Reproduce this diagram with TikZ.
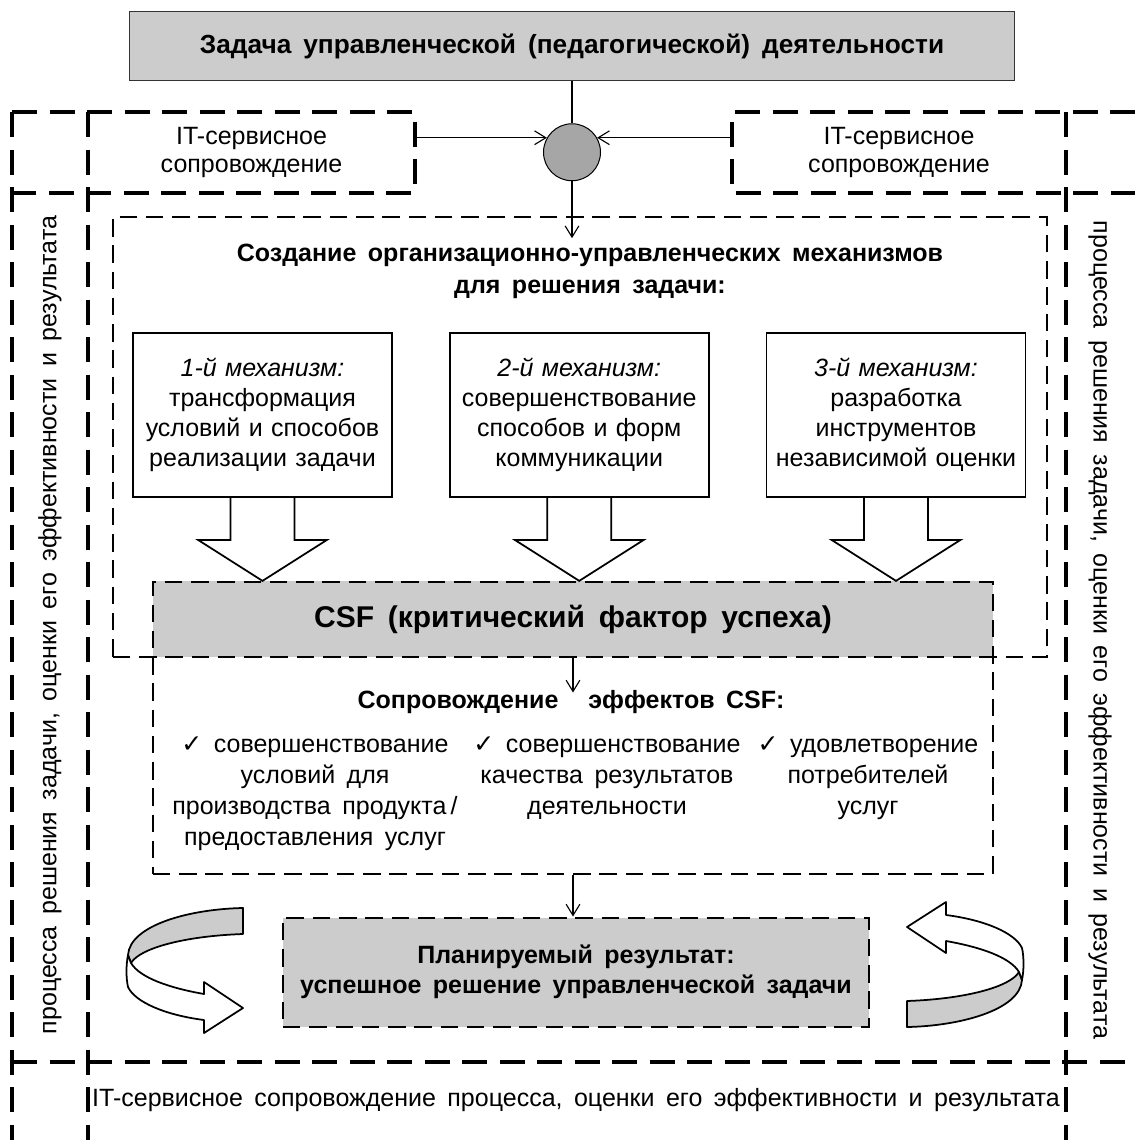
\documentclass[tikz,border=0pt]{standalone}
\usepackage{fontspec}
\setmainfont{Liberation Sans}[WordSpace=1.65]
\newfontfamily\symfont{DejaVu Sans}
\newcommand{\checkmk}{{\symfont ✓}}
\usetikzlibrary{calc,positioning,arrows.meta}

\begin{document}
\begin{tikzpicture}[
	x=0.4pt, y=-0.4pt,
	font=\fontsize{10}{12}\selectfont,
	>={Straight Barb[length=4.5pt,width=5.5pt]},
	linie/.style={
	draw=black,solid,line width=0.45pt,
	},
	rahmen/.style={
	draw=black,line width=1.6pt,dash pattern=on 10pt off 5pt,
	},
	strich/.style={
	draw=black,line width=0.8pt,dash pattern=on 7pt off 3.5pt,
	},
	mechbox/.style={
	draw=black,line width=0.7pt,minimum width=103.6pt,minimum height=65.6pt,
	text width=102pt,align=center,inner sep=0pt,
	},
	ribbon/.style={
	draw=black,line width=0.7pt,line join=round,
	}
	]

\useasboundingbox (0,0) rectangle (1135,1140);

% outer frame
\draw[rahmen] (12,112) -- (415,112) -- (415,193) -- (12,193);
\draw[rahmen] (1135,112) -- (732,112) -- (732,193) -- (1135,193);
\draw[rahmen] (12,112) -- (12,1140);
\draw[rahmen] (88,112) -- (88,1140);
\draw[rahmen] (1066,112) -- (1066,1140);
\draw[rahmen] (12,1062) -- (1135,1062);

\node[draw=black!80, line width=0.6pt, fill=black!20, minimum width=354pt, minimum height=27.6pt, font=\fontsize{10.5}{12}\selectfont\bfseries] (task) at (572,46) {Задача управленческой (педагогической) деятельности};
\node[circle, draw, fill=black!35, minimum size=22.8pt, inner sep=0pt, below=16.8pt of task] (hub) {};

\node[align=center, minimum width=130.8pt, minimum height=32.4pt, font=\fontsize{10}{11}\selectfont] (itleft) at (251.5,152.5) {IT-сервисное\\сопровождение};
\node[align=center, minimum width=133.6pt, minimum height=32.4pt, font=\fontsize{10}{11}\selectfont] (itright) at (899,152.5) {IT-сервисное\\сопровождение};

\node[rotate=90] (leftstrip) at (50,625) {процесса решения задачи, оценки его эффективности и результата};
\node[rotate=-90] (rightstrip) at (1100,630) {процесса решения задачи, оценки его эффективности и результата};
\node (bottomstrip) at (576,1100) {IT-сервисное сопровождение процесса, оценки его эффективности и результата};

\node[fill=black!20, minimum width=336pt, minimum height=30.4pt, font=\fontsize{12}{14}\selectfont\bfseries] (csf) at (573,619) {CSF (критический фактор успеха)};
\node[strich, minimum width=373.6pt, minimum height=176pt] (mechframe) at (580,437) {};
\node[strich, anchor=north, minimum width=336pt, minimum height=116.8pt] (effects) at (csf.north) {};

\node[font=\fontsize{10}{12.8}\selectfont\bfseries, align=center, inner sep=2pt] (head) at (590,271) {Создание организационно-управленческих механизмов\\для решения задачи:};

\node[mechbox] (mecha) at (262.5,415) {\textit{1-й механизм:}\\трансформация\\условий и способов\\реализации задачи};
\node[mechbox, right=22.4pt of mecha] (mechb) {\textit{2-й механизм:}\\совершенствование\\способов и форм\\коммуникации};
\node[mechbox, right=22.4pt of mechb] (mechc) {\textit{3-й механизм:}\\разработка\\инструментов\\независимой оценки};

\foreach \m in {mecha,mechb,mechc}
  \draw[linie, line width=0.7pt] ($(\m.south)+(-32,0)$) -- ++(0,42) -- ++(-32.5,0) -- ++(64.5,41) -- ++(64.5,-41) -- ++(-32.5,0) -- ++(0,-42);

\node[font=\bfseries, inner sep=1pt] (effhead) at (571,702) {Сопровождение\hspace{1.2em}эффектов CSF:};
\node[anchor=north, align=center, inner sep=0pt, font=\fontsize{10}{12.4}\selectfont] (effa) at (315,736) {\checkmk{} совершенствование\\условий для\\производства продукта\,/\\предоставления услуг};
\node[anchor=north, align=center, inner sep=0pt, font=\fontsize{10}{12.4}\selectfont] (effb) at (607,736) {\checkmk{} совершенствование\\качества результатов\\деятельности};
\node[anchor=north, align=center, inner sep=0pt, font=\fontsize{10}{12.4}\selectfont] (effc) at (868,736) {\checkmk{} удовлетворение\\потребителей\\услуг};

\node[strich, fill=black!20, minimum width=234.4pt, minimum height=43.6pt, align=center, font=\fontsize{10}{12}\selectfont\bfseries] (result) at (576,972) {Планируемый результат:\\успешное решение управленческой задачи};

\draw [linie] (task) to (hub);
\draw [->, linie] (itleft.east |- hub.150) to (hub.150);
\draw [->, linie] (itright.west |- hub.30) to (hub.30);
\draw [->, linie] (hub.south) to (hub.south |- head.north);
\draw [->, linie] (csf.south) to ($(csf.south)+(0,35)$);
\draw [->, linie] (effects.south) to (effects.south |- result.north);

% ribbon arrows
\foreach \w in {0,180}{
\begin{scope}[rotate around={\w:(575,967.5)}]
\draw[ribbon, fill=black!20] (243,908) .. controls (190,909) and (130,925) .. (128,955) -- (131,963) .. controls (140,948) and (185,936) .. (243,934) -- cycle;
\draw[ribbon, fill=white] (128,955) .. controls (126,965) and (126,978) .. (128,987) .. controls (135,1002) and (165,1015) .. (204,1020) -- (204,1033) -- (243,1008) -- (204,982) -- (204,994) .. controls (170,988) and (140,978) .. (131,963) -- cycle;
\end{scope}
}

\end{tikzpicture}
\end{document}
